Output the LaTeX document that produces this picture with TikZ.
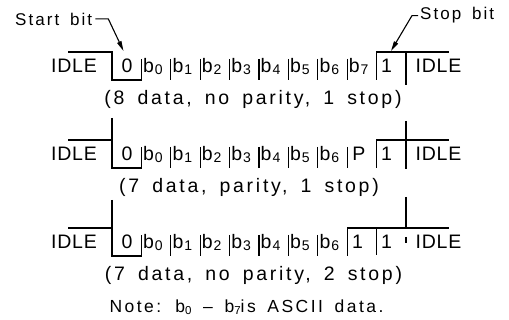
\documentclass[tikz,border=0pt]{standalone}
\usepackage{fontspec}
\setmainfont{Liberation Sans}[LetterSpace=14,WordSpace=1.6]
\newfontfamily\rowfam{Liberation Sans}[LetterSpace=4]
\newfontfamily\ptrfam{Liberation Sans}[LetterSpace=12,WordSpace=1.6]
\usetikzlibrary{arrows.meta}
\newcommand{\bigf}{\fontsize{19.5}{20}\selectfont}
\newcommand{\rowf}{\rowfam\fontsize{19.5}{20}\selectfont}
\newcommand{\smallf}{\ptrfam\fontsize{17}{18}\selectfont}
\newcommand{\notef}{\fontsize{17.5}{18}\selectfont}
\newcommand{\bsub}[1]{b\kern1pt\raisebox{-1.8pt}{\fontsize{14}{14}\selectfont #1}}
\newcommand{\nsub}[1]{b\raisebox{-1.5pt}{\fontsize{11.5}{12}\selectfont #1}}
\begin{document}
\begin{tikzpicture}[x=1pt,y=-1pt,
  wire/.style={line width=1.1pt},
  lbl/.style={inner sep=0pt,font=\bigf},
  rowlbl/.style={inner sep=0pt,font=\rowf},
  smalllbl/.style={inner sep=0pt,font=\smallf},
  notelbl/.style={inner sep=0pt,font=\notef},
  ptr/.style={wire,-{Triangle[length=10pt,width=4.5pt]}}]
\useasboundingbox (0,0) rectangle (509,320);

% ---------- pointers
\node[smalllbl,anchor=base west] (startlbl) at (15,26) {Start bit};
\node[smalllbl,anchor=base west] (stoplbl) at (420,20) {Stop bit};
\coordinate (starttip) at (123.5,51);
\coordinate (stoptip) at (391,51);
\draw[ptr] ([xshift=3pt,yshift=1pt]startlbl.east) -- ++(13,0) -- (starttip);
\draw[ptr] ([xshift=-2pt]stoplbl.west) -- ++(-6,0) -- (stoptip);

% ---------- row 1 : 8 data, no parity, 1 stop
\draw[wire] (68,52) -| (112,80) -| (141.4,59);
\foreach \k in {2,...,8} \draw[wire] ({112+\k*29.4},59) -- ({112+\k*29.4},80);
\draw[wire] (376.6,80) |- (449,52);
\draw[wire] (406,52) -- (406,85);
\node[rowlbl,anchor=base] (r1idleL) at (74,72.7) {IDLE};
\node[rowlbl,anchor=base] (r1zero) at (127,72.7) {0};
\foreach \i in {0,...,7}
  \node[rowlbl,anchor=base west] (r1b\i) at ({112+(\i+1)*29.4+1.5},72.7) {\bsub{\i}};
\node[rowlbl,anchor=base] (r1one) at (386.5,72.7) {1};
\node[rowlbl,anchor=base] (r1idleR) at (438.5,72.7) {IDLE};
\node[lbl,anchor=base] (cap1) at (253,105) {(8 data, no parity, 1 stop)};

% ---------- row 2 : 7 data, parity, 1 stop
\draw[wire] (112,118) -- (112,140);
\draw[wire] (68,140) -| (112,168) -| (141.4,147);
\foreach \k in {2,...,8} \draw[wire] ({112+\k*29.4},147) -- ({112+\k*29.4},168);
\draw[wire] (376.6,168) |- (449,140);
\draw[wire] (406,121) -- (406,169);
\node[rowlbl,anchor=base] (r2idleL) at (74,160.7) {IDLE};
\node[rowlbl,anchor=base] (r2zero) at (127,160.7) {0};
\foreach \i in {0,...,6}
  \node[rowlbl,anchor=base west] (r2b\i) at ({112+(\i+1)*29.4+1.5},160.7) {\bsub{\i}};
\node[rowlbl,anchor=base] (r2par) at (359,160.7) {P};
\node[rowlbl,anchor=base] (r2one) at (386.5,160.7) {1};
\node[rowlbl,anchor=base] (r2idleR) at (438.5,160.7) {IDLE};
\node[lbl,anchor=base] (cap2) at (249,193) {(7 data, parity, 1 stop)};

% ---------- row 3 : 7 data, no parity, 2 stop
\draw[wire] (112,200) -- (112,228);
\draw[wire] (68,228) -| (112,256) -| (141.4,235);
\foreach \k in {2,...,7} \draw[wire] ({112+\k*29.4},235) -- ({112+\k*29.4},256);
\draw[wire] (347.2,256) |- (449,228);
\draw[wire] (376.6,228) -- (376.6,255);
\draw[wire] (406,197) -- (406,228);
\draw[wire] (406,237) -- (406,243);
\node[rowlbl,anchor=base] (r3idleL) at (74,248.7) {IDLE};
\node[rowlbl,anchor=base] (r3zero) at (127,248.7) {0};
\foreach \i in {0,...,6}
  \node[rowlbl,anchor=base west] (r3b\i) at ({112+(\i+1)*29.4+1.5},248.7) {\bsub{\i}};
\node[rowlbl,anchor=base] (r3oneA) at (357.5,248.7) {1};
\node[rowlbl,anchor=base] (r3oneB) at (386.5,248.7) {1};
\node[rowlbl,anchor=base] (r3idleR) at (438.5,248.7) {IDLE};
\node[lbl,anchor=base] (cap3) at (253.5,281) {(7 data, no parity, 2 stop)};

% ---------- note
\node[notelbl,anchor=base] (note) at (246.5,313) {Note: \nsub{0} – \nsub{7}is ASCII data.};
\end{tikzpicture}
\end{document}
